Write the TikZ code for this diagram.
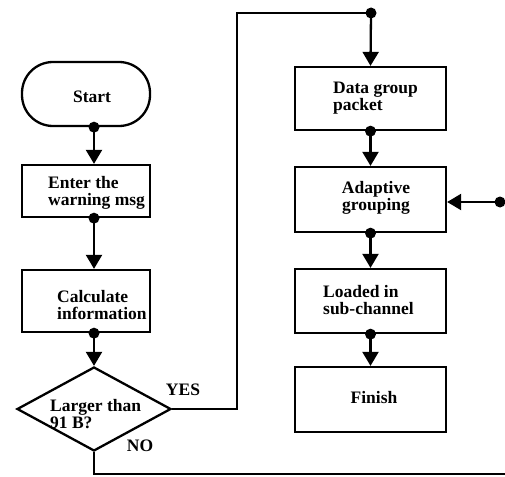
\documentclass[tikz,border=0pt]{standalone}
\usepackage{fontspec}
\setmainfont{Liberation Serif}
\usetikzlibrary{shapes.geometric,arrows.meta}
\begin{document}
\begin{tikzpicture}[x=1pt,y=-1pt,
  lw/.style={line width=2.3pt},
  box/.style={draw,lw,inner sep=0pt,rectangle},
  term/.style={box,rounded corners=31pt},
  decision/.style={draw,lw,diamond,inner sep=0pt,minimum width=154pt,minimum height=84pt},
  lbl/.style={inner sep=0pt,align=left,font=\fontsize{17.5}{17}\selectfont\bfseries},
  arr/.style={lw,-{Triangle[width=16pt,length=14pt]}},
  conn/.style={lw},
  dot/.style={fill=black}
]
\useasboundingbox (0,0) rectangle (505,476);

% left column
\node[term,minimum width=128pt,minimum height=64pt] (start) at (86,94) {};
\node[lbl] (startT) at (92,97) {Start};
\node[box,minimum width=128pt,minimum height=52pt] (enter) at (86,191) {};
\node[lbl,anchor=west] (enterT) at (48,193) {Enter the\\warning msg};
\node[box,minimum width=128pt,minimum height=62pt] (calc) at (86,301) {};
\node[lbl,anchor=west] (calcT) at (57,305) {Calculate\\information};
\node[decision] (dec) at (94,409) {};
\node[lbl,anchor=west] (decT) at (50,414) {Larger than\\91 B?};
\node[lbl] (yes) at (183,390) {YES};
\node[lbl] (no) at (140,446) {NO};

% right column
\node[box,minimum width=151pt,minimum height=63pt] (data) at (370.5,98.5) {};
\node[lbl,anchor=west] (dataT) at (333,98) {Data group\\packet};
\node[box,minimum width=151pt,minimum height=65pt] (adapt) at (370.5,199.5) {};
\node[lbl,align=center] (adaptT) at (376,198) {Adaptive\\grouping};
\node[box,minimum width=151pt,minimum height=64pt] (load) at (370.5,301) {};
\node[lbl,anchor=west] (loadT) at (323,300) {Loaded in\\sub-channel};
\node[box,minimum width=151pt,minimum height=65pt] (fin) at (370.5,399.5) {};
\node[lbl] (finT) at (374,398) {Finish};

\coordinate (colA) at (94,0);
\coordinate (yturn) at (237,13);
\coordinate (top) at (371,13);
\coordinate (noend) at (505,474);
\coordinate (rdot) at (500,202);

% left connectors
\draw[arr] (start.south -| colA) -- (enter.north -| colA);
\fill[dot] (start.south -| colA) circle (5.5pt);
\draw[arr] (enter.south -| colA) -- (calc.north -| colA);
\fill[dot] (enter.south -| colA) circle (5.5pt);
\draw[arr] (calc.south -| colA) -- (dec.north);
\fill[dot] (calc.south -| colA) circle (5.5pt);

% YES branch
\draw[conn] (dec.east) -| (yturn) -- (top);
\draw[arr] (top) -- (data.north);
\fill[dot] (top) circle (5.5pt);

% NO branch
\draw[conn] (dec.south) |- (noend);

% right connectors
\draw[arr] (data.south) -- (adapt.north);
\fill[dot] (data.south) circle (5.5pt);
\draw[arr] (adapt.south) -- (load.north);
\fill[dot] (adapt.south) circle (5.5pt);
\draw[arr] (load.south) -- (fin.north);
\fill[dot] (load.south) circle (5.5pt);
\draw[arr] (rdot) -- (adapt.east |- rdot);
\fill[dot] (rdot) circle (5.5pt);
\end{tikzpicture}
\end{document}
